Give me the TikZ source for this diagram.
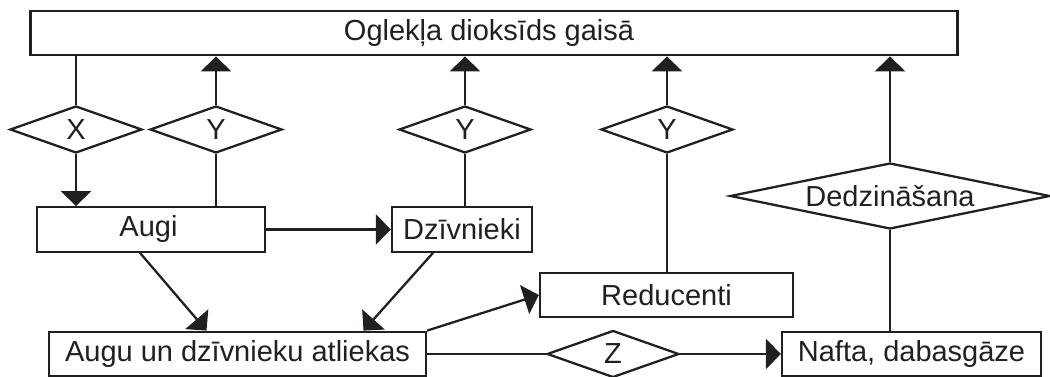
\documentclass[tikz,border=0pt]{standalone}
\usepackage{fontspec}
\setmainfont{Liberation Sans}
\usetikzlibrary{shapes.geometric, arrows.meta, calc}
\definecolor{ink}{HTML}{231F20}

\begin{document}
\begin{tikzpicture}[x=0.02cm, y=-0.02cm, line width=1.3pt, color=ink,
    every node/.style={font=\fontsize{16.5}{19}\selectfont},
    box/.style={draw, rectangle, inner sep=0pt, minimum height=0.89cm},
    rhomb/.style={draw, diamond, aspect=2.8, inner sep=0pt,
      minimum width=2.64cm, minimum height=0.94cm},
    flow/.style={-{Triangle[length=3mm, width=6mm]}}]
  \useasboundingbox (0,0) rectangle (1050,377);

  \node[box, minimum width=18.54cm] (co2) at (494,33) {Oglekļa dioksīds gaisā\hspace*{0.2cm}};
  \node[box, minimum width=4.56cm] (augi) at (151,229.5) {Augi\hspace*{0.1cm}};
  \node[box, minimum width=2.8cm] (dz) at (462,229.5) {Dzīvnieki};
  \node[box, minimum width=5.06cm] (red) at (666.5,295) {Reducenti};
  \node[box, minimum width=7.54cm] (atl) at (237.5,354) {Augu un dzīvnieku atliekas};
  \node[box, minimum width=5.18cm] (naf) at (911.5,354) {Nafta, dabasgāze};

  \node[rhomb] (x) at (76,129.5) {X};
  \foreach \n/\px in {y1/216, y2/465, y3/667}
    \node[rhomb] (\n) at (\px,129.5) {Y};
  \node[rhomb, aspect=4.85, minimum width=6.4cm, minimum height=1.32cm]
    (dedz) at (890,196) {Dedzināšana};
  \node[rhomb] (z) at (613,354) {Z};

  \draw (co2.south -| x.north) -- (x.north);
  \draw[flow] (x.south) -- (x.south |- augi.north);
  \foreach \n/\m in {y1/augi, y2/dz, y3/red, dedz/naf} {
    \draw (\n.south |- \m.north) -- (\n.south);
    \draw[flow] (\n.north) -- (\n.north |- co2.south);
  }

  \draw[flow] (augi.east) -- (dz.west);
  \draw[flow] ($(augi.south)+(-11,0)$) -- ($(atl.north)+(-31,0)$);
  \draw[flow] ($(dz.south)+(-29,0)$) -- ($(atl.north)+(126,0)$);
  \draw[flow] (atl.north east) -- (red.west);
  \draw (atl.east) -- (z.west);
  \draw[flow] (z.east) -- (naf.west);
\end{tikzpicture}
\end{document}
